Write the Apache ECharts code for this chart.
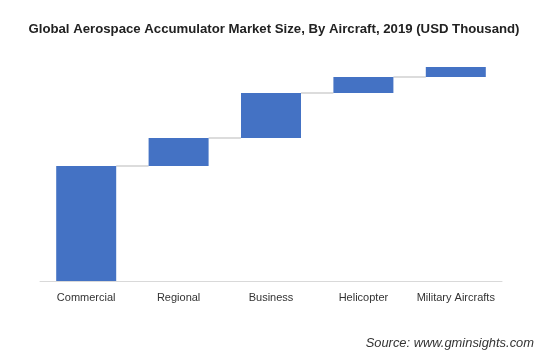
<!DOCTYPE html>
<html>
<head>
<meta charset="utf-8">
<script src="https://cdn.jsdelivr.net/npm/echarts@6/dist/echarts.min.js"></script>
<style>html,body{margin:0;padding:0;background:#fff;}#c{width:553px;height:362px;}</style>
</head>
<body>
<div id="c"></div>
<script>
var categories = ['Commercial', 'Regional', 'Business', 'Helicopter', 'Military Aircrafts'];
var increments = [57500, 14000, 22500, 8000, 5000];

var bases = [];
var tops = [];
var acc = 0;
for (var i = 0; i < increments.length; i++) {
  bases.push(acc);
  acc += increments[i];
  tops.push(acc);
}
var BAR_W = 60;

var chart = echarts.init(document.getElementById('c'));
chart.setOption({
  animation: false,
  backgroundColor: '#fff',
  title: [{
    text: 'Global Aerospace Accumulator Market Size, By Aircraft, 2019 (USD Thousand)',
    left: 269, top: 18, textAlign: 'center',
    textStyle: { fontFamily: 'Liberation Sans, Arial', fontSize: 13.2, fontWeight: 'bold', color: '#222' }
  }, {
    text: 'Source: www.gminsights.com',
    right: 14, top: 332,
    textStyle: { fontFamily: 'Liberation Sans, Arial', fontSize: 12.9, fontWeight: 'normal', fontStyle: 'italic', color: '#333' }
  }],
  grid: { left: 40, right: 51, top: 61, bottom: 81, containLabel: false },
  xAxis: {
    type: 'category', data: categories,
    axisLine: { lineStyle: { color: '#d9d9d9', width: 1 } },
    axisTick: { show: false },
    axisLabel: { interval: 0, color: '#333', fontSize: 11, fontFamily: 'Liberation Sans, Arial', margin: 11 }
  },
  yAxis: { type: 'value', min: 0, max: 110000, show: false, splitLine: { show: false } },
  series: [{
    type: 'bar', stack: 'w', data: bases, barWidth: BAR_W,
    itemStyle: { color: 'transparent' }, silent: true
  }, {
    type: 'bar', stack: 'w', data: increments, barWidth: BAR_W,
    itemStyle: { color: '#4472C4' }
  }, {
    type: 'custom',
    data: tops.slice(0, tops.length - 1).map(function (v, i) { return [i, v]; }),
    renderItem: function (params, api) {
      var i = api.value(0);
      var p1 = api.coord([i, api.value(1)]);
      var p2 = api.coord([i + 1, api.value(1)]);
      return {
        type: 'line',
        shape: { x1: p1[0] + BAR_W / 2, y1: p1[1], x2: p2[0] - BAR_W / 2, y2: p1[1] },
        style: { stroke: '#d0d0d0', lineWidth: 1.5 }
      };
    },
    z: 1
  }]
});
</script>
</body>
</html>
